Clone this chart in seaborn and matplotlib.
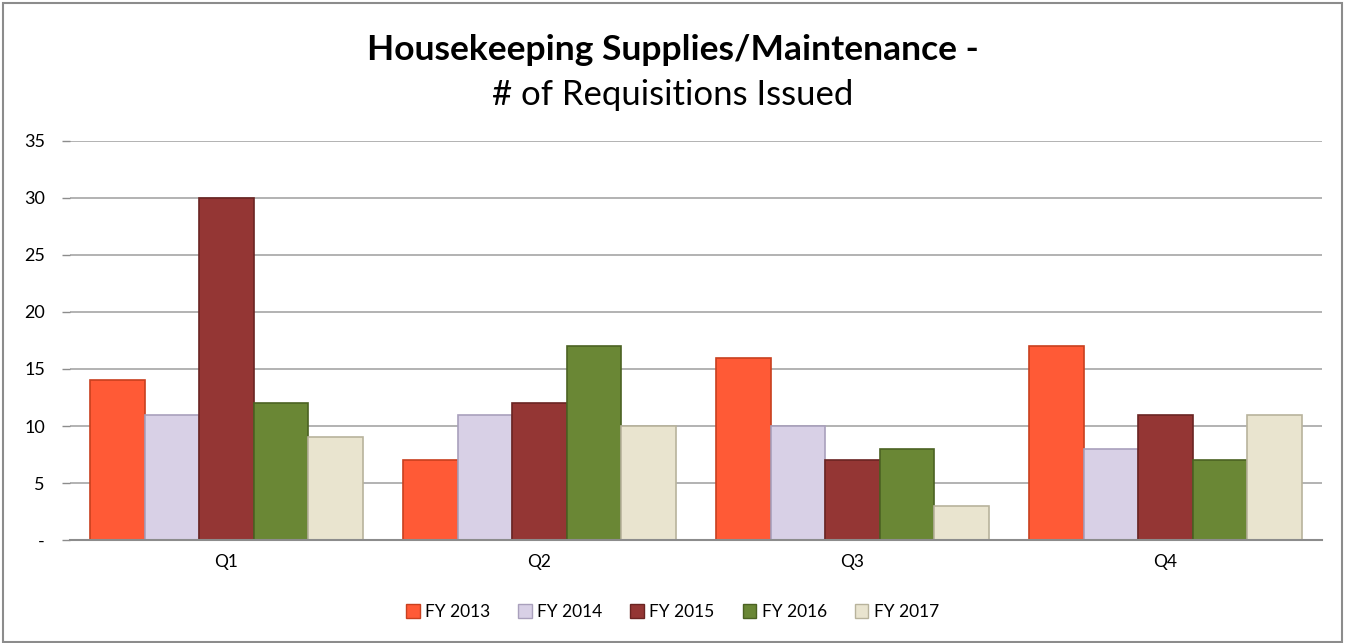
import pandas as pd
import matplotlib.pyplot as plt
import seaborn as sns
from matplotlib.patches import Rectangle, Patch


# Chart data
# ----------
quarters = ["Q1", "Q2", "Q3", "Q4"]
years = ["FY 2013", "FY 2014", "FY 2015", "FY 2016", "FY 2017"]
fy2013 = [14, 7, 16, 17]
fy2014 = [11, 11, 10, 8]
fy2015 = [30, 12, 7, 11]
fy2016 = [12, 17, 8, 7]
fy2017 = [9, 10, 3, 11]
y_ticks = [0, 5, 10, 15, 20, 25, 30, 35]
y_tick_labels = ["-", "5", "10", "15", "20", "25", "30", "35"]

colors = ["#FF5A36", "#D8D0E6", "#943634", "#6A8735", "#E9E4CF"]
edges = ["#C8401F", "#A9A0BC", "#6A2422", "#4B6222", "#B8B39C"]

# long-form table for seaborn
df = pd.DataFrame({
  "quarter": quarters * 5,
  "year": [y for y in years for _ in quarters],
  "count": fy2013 + fy2014 + fy2015 + fy2016 + fy2017,
})

sns.set_theme(style="white")
plt.rcParams["font.family"] = ["Lato", "DejaVu Sans"]
plt.rcParams["text.color"] = "black"
plt.rcParams["xtick.color"] = "black"
plt.rcParams["ytick.color"] = "black"

fig = plt.figure(figsize=(13.45, 6.43), dpi=100)
ax = fig.add_axes([0.052, 0.160, 0.931, 0.621])

sns.barplot(data=df, x="quarter", y="count", hue="year", order=quarters,
            hue_order=years, palette=colors, width=0.87, gap=0,
            saturation=1, ax=ax, legend=False)

# darker outline per series
for container, ec in zip(ax.containers, edges):
  for bar in container:
    bar.set_edgecolor(ec)
    bar.set_linewidth(1.2)

ax.set_ylim(0, 35)
ax.set_yticks(y_ticks)
ax.set_yticklabels(y_tick_labels, fontsize=13)
ax.tick_params(axis="x", labelsize=12.5, length=0, pad=10)
ax.tick_params(axis="y", left=True, length=6, width=1, color="#8C8C8C", pad=12)
ax.yaxis.grid(True, color="#A6A6A6", linewidth=1.2)
ax.set_axisbelow(True)
for side in ["top", "right", "left"]:
  ax.spines[side].set_visible(False)
ax.spines["bottom"].set_color("#8C8C8C")
ax.spines["bottom"].set_linewidth(1.5)
ax.set_xlabel("")
ax.set_ylabel("")

# title
fig.text(0.5, 0.922, "Housekeeping Supplies/Maintenance -", ha="center",
         va="center", fontsize=25.5, fontweight="bold")
fig.text(0.5, 0.852, "# of Requisitions Issued", ha="center", va="center",
         fontsize=25)

# legend
handles = [Patch(facecolor=c, edgecolor=e, label=y)
           for c, e, y in zip(colors, edges, years)]
fig.legend(handles=handles, loc="center", bbox_to_anchor=(0.5, 0.048),
           ncol=5, frameon=False, fontsize=12.5, handlelength=0.8,
           handleheight=0.8, handletextpad=0.3, columnspacing=1.6)

# outer border
fig.patches.append(Rectangle((0.002, 0.002), 0.996, 0.994,
                             transform=fig.transFigure, fill=False,
                             edgecolor="#8C8C8C", linewidth=1.5))

fig.savefig("out.png", dpi=100)
